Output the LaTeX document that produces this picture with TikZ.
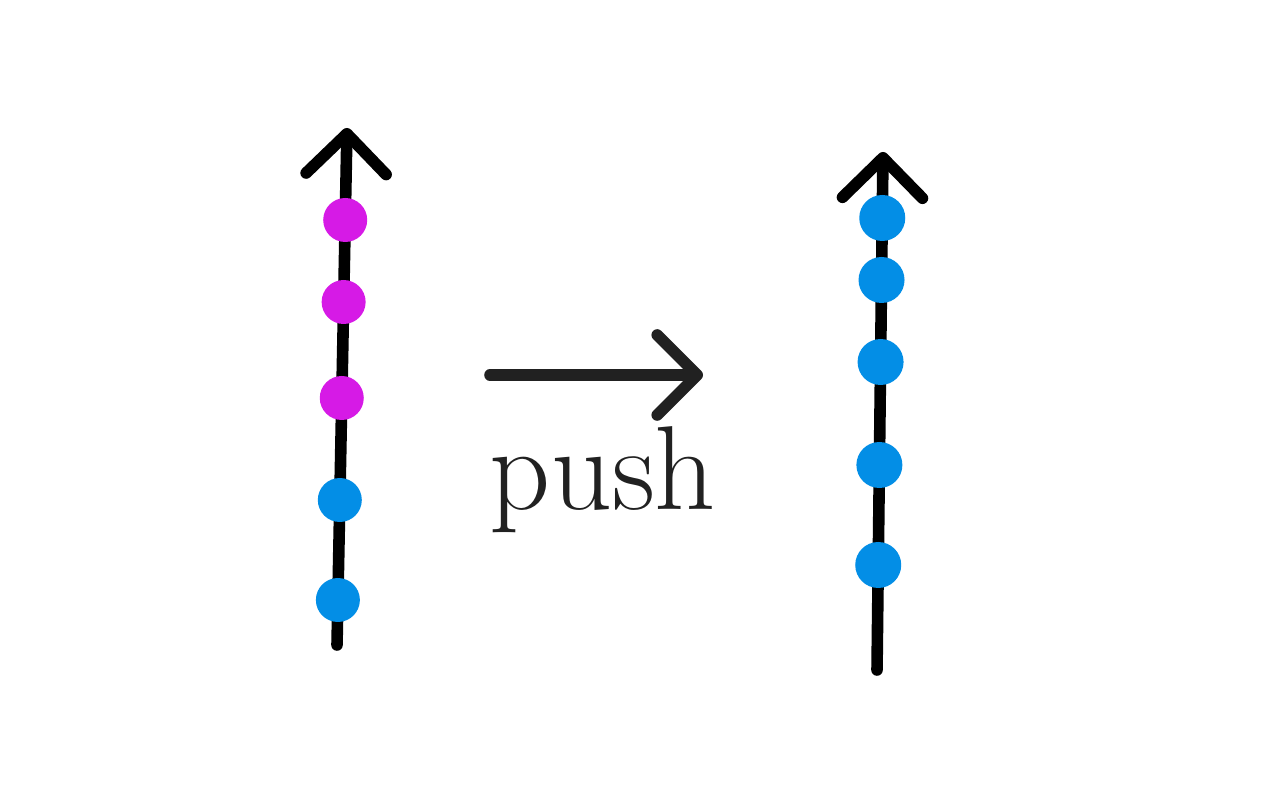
\documentclass[tikz,border=0pt]{standalone}
\usepackage{xcolor}
\usetikzlibrary{arrows.meta,positioning}
\definecolor{dotpink}{RGB}{214,26,230}
\definecolor{dotblue}{RGB}{3,142,230}
\tikzset{
  axisline/.style={line width=3.3pt,line cap=round,-{Straight Barb[round,length=4mm,width=8mm,line width=3.3pt]}},
  dot/.style={circle,inner sep=0pt,minimum size=4.4mm,fill=#1}
}
\begin{document}
\begin{tikzpicture}
  \useasboundingbox (0,0) rectangle (12.8,8);
  % before
  \coordinate (lbot) at (3.37,1.55); \coordinate (ltop) at (3.47,6.72);
  \draw[axisline] (lbot) -- (ltop);
  \foreach \y/\c [count=\i] in {5.80/dotpink,4.98/dotpink,4.02/dotpink,3.00/dotblue,2.00/dotblue} {
    \node[dot=\c] (l\i) at ({3.37+0.0193*(\y-1.55)},\y) {};
  }
  % push arrow
  \coordinate (pstart) at (4.90,4.25); \coordinate (pend) at (7.03,4.25);
  \draw[axisline,black!87] (pstart) -- (pend);
  \node[font=\fontsize{34}{40}\selectfont,text=black!87,anchor=base] (push) at (6.03,2.90) {push};
  % after
  \coordinate (rbot) at (8.77,1.30); \coordinate (rtop) at (8.83,6.48);
  \draw[axisline] (rbot) -- (rtop);
  \foreach \y [count=\i] in {5.82,5.20,4.38,3.35,2.35} {
    \node[dot=dotblue,minimum size=4.6mm] (r\i) at ({8.77+0.0116*(\y-1.30)},\y) {};
  }
\end{tikzpicture}
\end{document}
